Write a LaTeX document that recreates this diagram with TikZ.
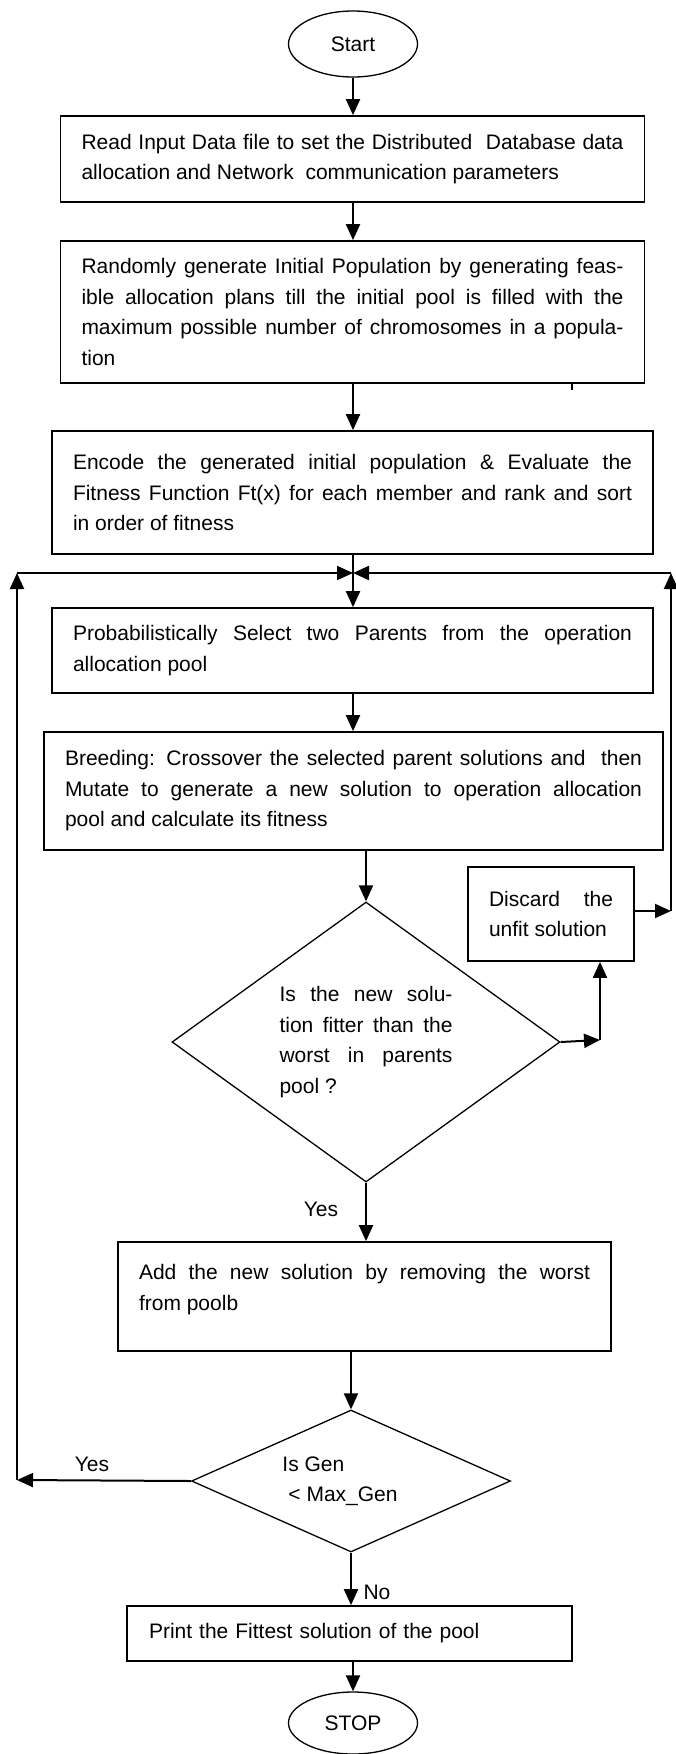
\documentclass[tikz,border=0pt]{standalone}
\usepackage{fontspec}
\setmainfont{Liberation Sans}
\usepackage{tikz}
\usetikzlibrary{shapes.geometric,arrows.meta}
\tolerance=9999
\hbadness=10000

\begin{document}
\begin{tikzpicture}[x=1pt,y=-1pt,
	font=\fontsize{21}{30.5}\selectfont,
	proc/.style={draw,line width=1.7pt,rectangle,align=justify,inner xsep=21pt,inner ysep=0pt},
	term/.style={draw,line width=1.3pt,ellipse,minimum width=129pt,inner sep=0pt},
	decide/.style={draw,line width=1.3pt,diamond,inner sep=0pt},
	flow/.style={line width=2pt,-{Triangle[length=16pt,width=14pt]}}]

	\useasboundingbox (0,0) rectangle (675,1754);

	\node[term,minimum height=66pt] (start) at (353,44) {Start};
	\node[proc,text width=542pt,minimum height=86pt] (read) at (352.5,159) {Read Input Data file to set the Distributed\ \ Database data\linebreak allocation and Network\ \ communication parameters};
	\node[proc,text width=542pt,minimum height=142pt] (init) at (352.5,312) {Randomly generate Initial Population by generating feas-\linebreak ible allocation plans till the initial pool is filled with the\linebreak maximum possible number of chromosomes in a popula-\linebreak tion};
	\node[proc,text width=559pt,minimum height=123pt] (enc) at (352.5,492.5) {Encode the generated initial population \& Evaluate the\linebreak Fitness Function Ft(x) for each member and rank and sort\linebreak in order of fitness};
	\node[proc,text width=559pt,minimum height=85pt] (sel) at (352.5,650.5) {Probabilistically Select two Parents from the operation\linebreak allocation pool};
	\node[proc,text width=577pt,minimum height=118pt] (breed) at (353.5,791) {Breeding: Crossover the selected parent solutions and\ \ then\linebreak Mutate to generate a new solution to operation allocation\linebreak pool and calculate its fitness};
	\node[proc,text width=124pt,minimum height=94pt] (disc) at (551,914) {Discard the\linebreak unfit solution};
	\node[decide,align=justify,aspect=1.4,text width=173pt,minimum width=388pt,minimum height=280pt] (fit) at (366,1042) {Is the new solu-\linebreak tion fitter than the\linebreak worst in parents\linebreak pool ?};
	\node[proc,text width=451pt,minimum height=109pt] (add) at (364.5,1296.5) {Add the new solution by removing the worst\linebreak from poolb\\[-12pt]\mbox{}};
	\node[decide,align=left,aspect=2,minimum width=319pt,minimum height=142pt] (gen) at (351,1481) {Is Gen\\\hspace*{6pt}< Max\_Gen\hspace*{22pt}};
	\node[proc,align=left,text width=401pt,inner xsep=22pt,minimum height=55pt] (best) at (349.5,1633.5) {Print the Fittest solution of the pool};
	\node[term,minimum height=62pt] (stop) at (353,1723) {STOP};

	\node (yes1) at (321,1209) {Yes};
	\node (yes2) at (92,1464) {Yes};
	\node (no) at (377,1592) {No};

	\coordinate (jn) at (353,573);
	\coordinate (lft) at (17,573);
	\coordinate (rgt) at (671,573);
	\coordinate (lbot) at (17,1480);
	\coordinate (rbot) at (671,911);
	\coordinate (crn) at (600,1040);

	\draw[flow] (start.south) -- (start.south |- read.north);
	\draw[flow] (read.south -| start.south) -- (start.south |- init.north);
	\draw[flow] (init.south -| jn) -- (jn |- enc.north);
	\draw[flow] (enc.south -| jn) -- (jn |- sel.north);
	\draw[flow] (sel.south -| jn) -- (jn |- breed.north);
	\draw[flow] (breed.south -| fit.north) -- (fit.north);
	\draw[flow] (fit.south) -- (fit.south |- add.north);
	\draw[flow] (add.south -| gen.north) -- (gen.north);
	\draw[flow] (gen.south) -- (gen.south |- best.north);
	\draw[flow] (best.south -| stop.north) -- (stop.north);

	\draw[flow] (fit.east) -- (crn);
	\draw[flow] (crn) -- (crn |- disc.south);
	\draw[flow] (disc.east |- rbot) -- (rbot);
	\draw[flow] (rbot) -- (rgt);
	\draw[flow] (rgt) -- (jn);
	\draw[flow] (gen.west) -- (lbot);
	\draw[flow] (lbot) -- (lft);
	\draw[flow] (lft) -- (jn);

	\draw[line width=1.2pt] (572,383) -- (572,390);

\end{tikzpicture}
\end{document}
